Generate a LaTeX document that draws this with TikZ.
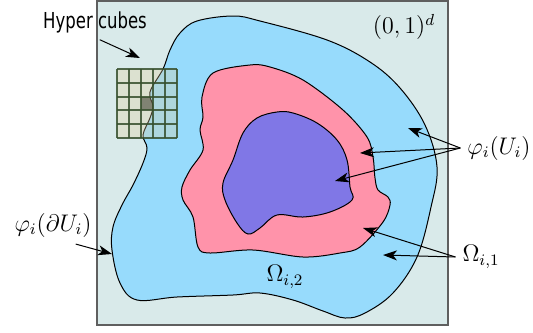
\documentclass[tikz,border=0pt]{standalone}
\usepackage{fontspec}
\newfontfamily\hcfont{DejaVu Sans}
\usetikzlibrary{arrows.meta}
\definecolor{bgsq}{RGB}{217,234,234}
\definecolor{sqgray}{RGB}{95,95,95}
\definecolor{blobblue}{RGB}{151,219,252}
\definecolor{blobpink}{RGB}{255,147,170}
\definecolor{blobpurple}{RGB}{128,119,230}
\definecolor{cubefill}{RGB}{230,205,150}
\definecolor{cubedark}{RGB}{85,100,100}
\definecolor{cubeline}{RGB}{55,80,45}

\begin{document}
\begin{tikzpicture}[x=0.5pt,y=-0.5pt,font=\fontsize{12}{14}\selectfont,
 blob/.style={draw=black,line width=0.5pt},
 lbl/.style={-{Stealth[length=7pt,width=5pt,inset=2pt]},line width=0.5pt}]
 \useasboundingbox (0,0) rectangle (533,332);
 \draw[draw=sqgray,fill=bgsq,line width=0.8pt] (97,1) rectangle (448,325);
 \fill[cubedark] (141,97) rectangle (153,110);
 % nested regions
 \draw[blob,fill=blobblue] plot[smooth cycle,tension=0.6] coordinates {(143,163) (147,148) (143,135) (150,118) (153,106) (150,92) (163,69) (170,50) (180,33) (197,21) (233,16) (260,21) (327,40) (370,62) (400,88) (425,125) (437,167) (431,207) (417,257) (393,293) (365,313) (345,318) (323,311) (293,300) (260,293) (233,295) (177,297) (137,300) (120,283) (112,250) (113,227) (122,205) (133,185)};
 \draw[blob,fill=blobpink] plot[smooth cycle,tension=0.55] coordinates {(250,65) (213,73) (202,97) (203,117) (200,130) (203,150) (190,170) (182,187) (183,200) (193,217) (198,247) (210,253) (253,250) (303,257) (340,253) (360,247) (383,222) (390,205) (388,197) (378,190) (375,178) (373,157) (367,137) (343,110) (303,80) (270,67)};
 \draw[blob,fill=blobpurple] plot[smooth cycle,tension=0.6] coordinates {(277,112) (257,118) (243,133) (233,160) (223,183) (225,200) (237,223) (248,234) (260,228) (277,215) (303,217) (330,212) (352,200) (350,187) (347,160) (337,140) (317,123) (293,113)};
 % hyper cubes
 \fill[cubefill,opacity=0.3] (117,69) rectangle (177,138);
 \foreach \x in {117,129,141,153,165,177} \draw[cubeline,line width=0.6pt,opacity=0.85] (\x,69) -- (\x,138);
 \foreach \y in {69,83,97,110,124,138} \draw[cubeline,line width=0.6pt,opacity=0.85] (117,\y) -- (177,\y);
 % labels
 \node[font={\fontsize{11}{13}\hcfont}] (hyper) at (95,22) {\scalebox{0.75}[1]{Hyper cubes}};
 \node (cube) at (404,27) {$(0,1)^d$};
 \node (phiU) at (499,148) {$\varphi_i(U_i)$};
 \node (Omega1) at (481,257) {$\Omega_{i,1}$};
 \node (phidU) at (53,225) {$\varphi_i(\partial U_i)$};
 \node (Omega2) at (285,277) {$\Omega_{i,2}$};
 \coordinate (hypertip) at (140,58);
 \coordinate (tipA) at (408,128);\coordinate (tipB) at (360,153);\coordinate (tipC) at (335,181);
 \coordinate (tipD) at (363,228);\coordinate (tipE) at (383,255);
 \coordinate (dUtip) at (112,254);
 \draw[lbl] (hyper.-75) -- (hypertip);
 \foreach \t in {tipA,tipB,tipC} \draw[lbl] (phiU.west) -- (\t);
 \foreach \t in {tipD,tipE} \draw[lbl] (Omega1.west) -- (\t);
 \draw[lbl] (phidU.-40) -- (dUtip);
\end{tikzpicture}
\end{document}
